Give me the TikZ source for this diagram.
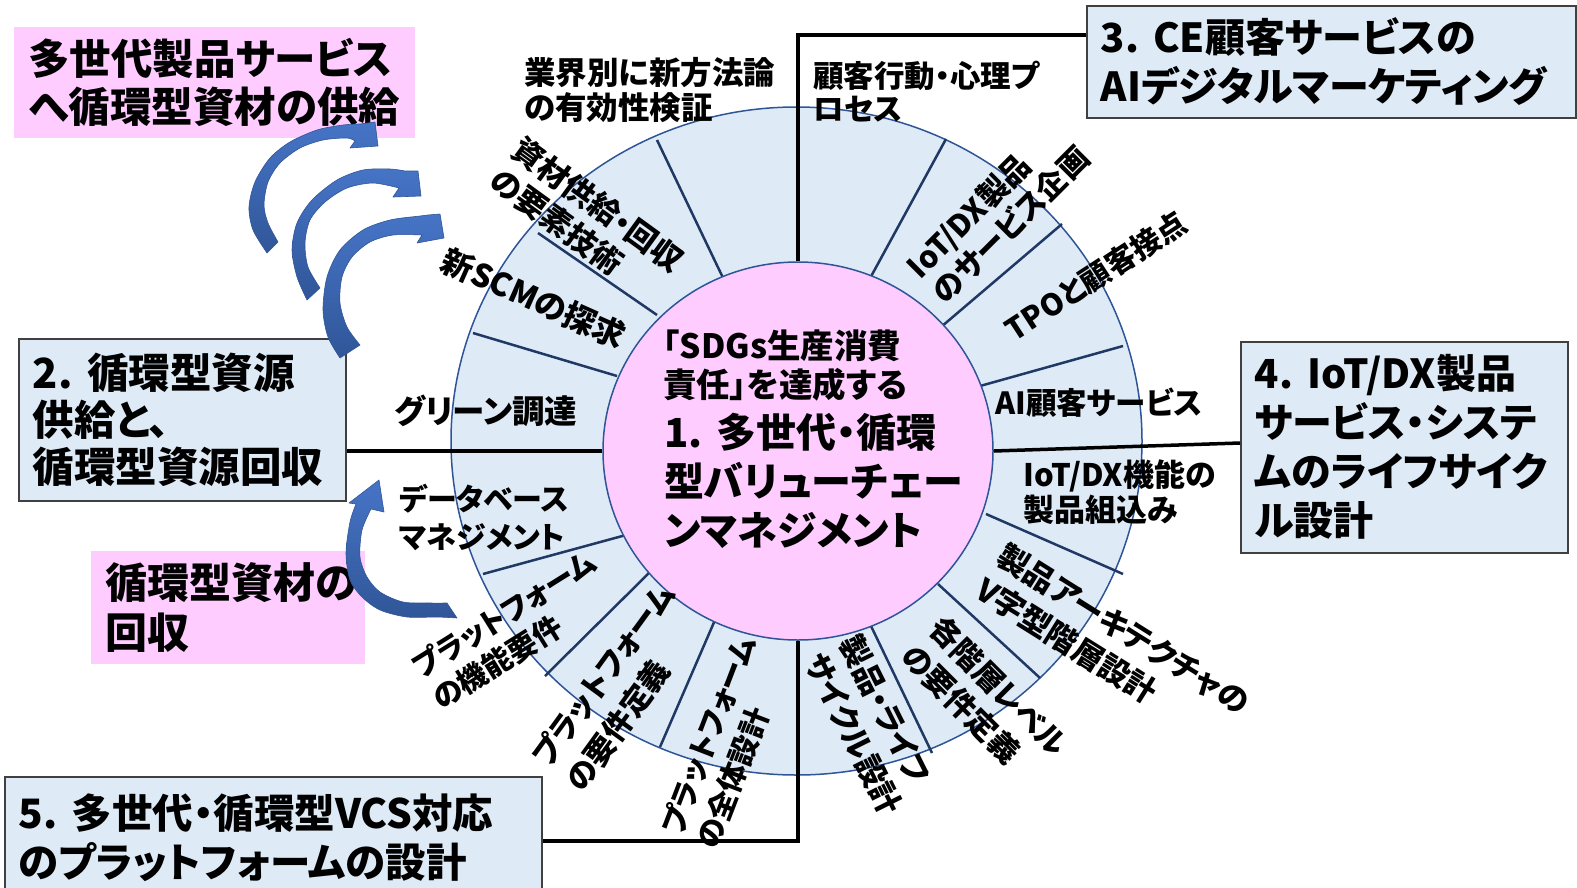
\documentclass[tikz,border=0pt]{standalone}
\usepackage{fontspec}
\setmainfont{Noto Sans CJK JP}[RawFeature=+palt]
\usetikzlibrary{shapes.geometric,arrows.meta}
\definecolor{ringfill}{RGB}{222,235,247}
\definecolor{ringline}{RGB}{47,85,151}
\definecolor{divline}{RGB}{31,56,100}
\definecolor{pinkfill}{RGB}{255,204,255}
\definecolor{boxline}{RGB}{64,64,64}
\definecolor{arrtop}{RGB}{70,116,198}
\definecolor{arrbot}{RGB}{48,86,152}
\newcommand{\fsz}[2]{\fontsize{#1}{#2}\selectfont}
\begin{document}
\begin{tikzpicture}[x=1pt,y=-1pt,
  seg/.style={inner sep=0pt, align=left},
  bx/.style={draw=boxline, line width=1.5pt, fill=ringfill, anchor=north west, inner xsep=14pt, inner ysep=0pt, align=left},
  pbx/.style={fill=pinkfill, anchor=north west, inner xsep=14pt, inner ysep=0pt, align=left},
  divider/.style={draw=divline, line width=2.5pt},
  conn/.style={draw=black, line width=3.5pt},
  barrow/.style={top color=arrtop, bottom color=arrbot, draw=arrbot, line width=0.6pt, line join=round}
]
\useasboundingbox (0,0) rectangle (1577,887);
\fill[white] (0,0) rectangle (1577,887);

% ring
\node[ellipse, draw=ringline, line width=1.5pt, fill=ringfill, minimum width=691pt, minimum height=668pt, inner sep=0pt] (ring) at (796.5,441) {};

% dividers
\draw[divider] (657,140) -- (725,282);
\draw[divider] (538,233) -- (657,315);
\draw[divider] (473,333) -- (617,376);
\draw[divider] (483,574) -- (626,535);
\draw[divider] (545,676) -- (653,569);
\draw[divider] (660,747) -- (715,620);
\draw[divider] (932,753) -- (871,626);
\draw[divider] (1040,678) -- (938,584);
\draw[divider] (1123,574) -- (986,514);
\draw[divider] (1123,346) -- (980,386);
\draw[divider] (1062,224) -- (941,327);
\draw[divider] (946,139) -- (868,282);

% core
\node[ellipse, draw=ringline, line width=1.5pt, fill=pinkfill, minimum width=390pt, minimum height=378pt, inner sep=0pt] (core) at (798,451) {};

% boxes
\node[pbx, text width=373pt, minimum height=111pt, font=\bfseries\fsz{41.5}{48}] (p1) at (14,27) {多世代製品サービス\\へ循環型資材の供給};
\node[bx, text width=299pt, minimum height=162pt, font=\bfseries\fsz{41.5}{47}] (b2) at (18,338) {2.\hspace{0.35em}循環型資源\\供給と、\\循環型資源回収};
\node[bx, text width=461pt, minimum height=112pt, font=\bfseries\fsz{40}{49}] (b3) at (1086,5) {3.\hspace{0.35em}CE顧客サービスの\\AIデジタルマーケティング};
\node[bx, text width=299pt, minimum height=211pt, font=\bfseries\fsz{40}{49}] (b4) at (1240,341) {4.\hspace{0.35em}IoT/DX製品\\サービス・システ\\ムのライフサイク\\ル設計};
\node[bx, text width=509pt, minimum height=122pt, font=\bfseries\fsz{40.5}{49}] (b5) at (4,776) {5.\hspace{0.35em}多世代・循環型VCS対応\\のプラットフォームの設計};
\node[pbx, text width=246pt, minimum height=113pt, font=\bfseries\fsz{42}{50}] (p2) at (91,551) {循環型資材の\\回収};

% connectors
\coordinate (k3) at (797,35);
\coordinate (k4) at (1240,443);
\coordinate (k5) at (797,841);
\draw[conn] (core.north) -- (core.north |- k3) -- (k3 -| b3.west);
\draw[conn] (core.south) -- (core.south |- k5) -- (k5 -| b5.east);
\draw[conn] (core.west) -- (core.west -| b2.east);
\draw[conn] (core.east) -- (k4 -| b4.west);

% curved block arrows
\path[barrow] plot[smooth] coordinates {(267,253) (253,230) (249,207) (255,182) (270,158) (290,142) (317,130) (343,125) (360,124)}
  -- (375,122) -- (378,146) -- (350,148) --
  plot[smooth] coordinates {(355,141) (347,138) (323,140) (300,148) (280,163) (268,182) (264,205) (268,223) (278,242)} -- cycle;
\path[barrow] plot[smooth] coordinates {(307,300) (297,277) (292,250) (297,223) (312,200) (337,180) (363,170) (390,169) (405,171)}
  -- (418,171) -- (421,196) -- (393,197) --
  plot[smooth] coordinates {(399,188) (373,183) (347,188) (325,202) (310,220) (305,243) (308,267) (320,288)} -- cycle;
\path[barrow] plot[smooth] coordinates {(340,358) (328,337) (323,310) (327,277) (340,250) (363,230) (390,220) (420,216) (428,215)}
  -- (440,214) -- (444,238) -- (417,243) --
  plot[smooth] coordinates {(422,235) (393,235) (370,242) (352,257) (342,277) (340,303) (347,327) (360,345)} -- cycle;
\path[barrow] plot[smooth] coordinates {(457,618) (437,617) (407,617) (380,610) (362,597) (350,580) (346,553) (350,522) (356,504)}
  -- (349,503) -- (379,480) -- (384,512) --
  plot[smooth] coordinates {(371,509) (362,530) (360,557) (367,577) (380,592) (403,602) (430,603) (447,603)} -- cycle;

% segment texts
\node[seg, anchor=west, font=\bfseries\fsz{30.5}{33}] (t1) at (813,92) {顧客行動・心理プ\\ロセス};
\node[seg, rotate=45, font=\bfseries\fsz{30.5}{36}] (t2) at (998,212) {IoT/DX製品\\のサービス企画};
\node[seg, rotate=33, font=\bfseries\fsz{30}{36}] (t3) at (1096,276) {TPOと顧客接点};
\node[seg, anchor=west, font=\bfseries\fsz{30.5}{36}] (t4) at (995,403) {AI顧客サービス};
\node[seg, anchor=west, font=\bfseries\fsz{31}{35}] (t5) at (1023,492) {IoT/DX機能の\\製品組込み};
\node[seg, rotate=-32, font=\bfseries\fsz{31}{40}] (t6) at (1113,646) {製品アーキテクチャの\\V字型階層設計};
\node[seg, rotate=-45, font=\bfseries\fsz{30.5}{39}] (t7) at (985,700) {各階層レベル\\の要件定義};
\node[seg, rotate=-63.5, font=\bfseries\fsz{31}{39}] (t8) at (871,725) {製品・ライフ\\サイクル設計};
\node[seg, rotate=69, font=\bfseries\fsz{29.5}{38}] (t9) at (726,742) {プラットフォーム\\の全体設計};
\node[seg, rotate=54, font=\bfseries\fsz{30.5}{41}] (t10) at (620,687) {プラットフォーム\\の要件定義};
\node[seg, rotate=32, font=\bfseries\fsz{29.5}{37}] (t11) at (514,630) {プラットフォーム\\の機能要件};
\node[seg, anchor=west, font=\bfseries\fsz{30}{38}] (t12) at (399,517) {データベース\\マネジメント};
\node[seg, anchor=west, font=\bfseries\fsz{32.5}{36}] (t13) at (394,411) {グリーン調達};
\node[seg, rotate=-24, font=\bfseries\fsz{32}{36}] (t14) at (534,298) {新SCMの探求};
\node[seg, rotate=-36, font=\bfseries\fsz{31}{38}] (t15) at (587,220) {資材供給・回収\\の要素技術};
\node[seg, anchor=west, font=\bfseries\fsz{31.5}{35}] (t16) at (524,90) {業界別に新方法論\\の有効性検証};

% center texts
\node[seg, anchor=west, font=\bfseries\fsz{33.5}{39}] (ctop) at (663,365) {「SDGs生産消費\\責任」を達成する};
\node[seg, anchor=west, font=\bfseries\fsz{40}{49}] (cmain) at (664,481) {1.\hspace{0.35em}多世代・循環\\型バリューチェー\\ンマネジメント};
\end{tikzpicture}
\end{document}
